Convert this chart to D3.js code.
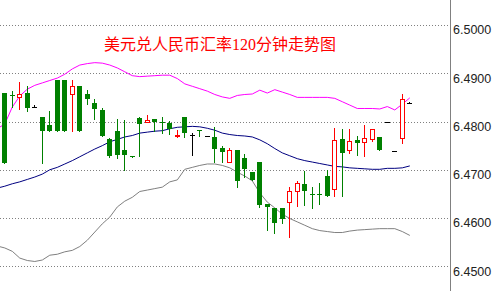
<!DOCTYPE html>
<html>
<head>
<meta charset="utf-8">
<script src="https://cdn.jsdelivr.net/npm/d3@7"></script>
<style>
    body { margin: 0; background: #fff; }
    svg { display: block; }
</style>
</head>
<body>
<svg id="canvas"></svg>
<script>
let title = "美元兑人民币汇率120分钟走势图"

// candles, oldest first
let opens = [6.4860, 6.4855, 6.4850, 6.4860, 6.4831, 6.4810, 6.4792, 6.4885, 6.4885, 6.4856,
    6.4874, 6.4858, 6.4838, 6.4824, 6.4763, 6.4780, 6.4740, 6.4729, 6.4808, 6.4798,
    6.4805, 6.4798, 6.4797, 6.4769, 6.4809, 6.4773, 6.4782, 6.4769, 6.4767, 6.4746,
    6.4717, 6.4740, 6.4724, 6.4695, 6.4716, 6.4630, 6.4620, 6.4620, 6.4634, 6.4657,
    6.4671, 6.4650, 6.4649, 6.4688, 6.4660, 6.4763, 6.4740, 6.4761, 6.4758, 6.4763,
    6.4767, 6.4798, 6.4739, 6.4765, 6.4838]
let highs = [6.4860, 6.4864, 6.4882, 6.4874, 6.4835, 6.4810, 6.4822, 6.4885, 6.4885, 6.4885,
    6.4874, 6.4865, 6.4847, 6.4829, 6.4765, 6.4805, 6.4804, 6.4729, 6.4809, 6.4813,
    6.4805, 6.4809, 6.4802, 6.4782, 6.4809, 6.4776, 6.4782, 6.4769, 6.4788, 6.4750,
    6.4745, 6.4740, 6.4733, 6.4695, 6.4716, 6.4630, 6.4620, 6.4620, 6.4664, 6.4676,
    6.4698, 6.4664, 6.4673, 6.4700, 6.4787, 6.4784, 6.4784, 6.4771, 6.4793, 6.4784,
    6.4767, 6.4798, 6.4739, 6.4858, 6.4841]
let lows = [6.4715, 6.4830, 6.4825, 6.4822, 6.4831, 6.4715, 6.4781, 6.4781, 6.4781, 6.4781,
    6.4781, 6.4837, 6.4805, 6.4770, 6.4726, 6.4725, 6.4700, 6.4727, 6.4729, 6.4798,
    6.4781, 6.4776, 6.4774, 6.4768, 6.4767, 6.4731, 6.4771, 6.4769, 6.4717, 6.4717,
    6.4717, 6.4665, 6.4685, 6.4679, 6.4622, 6.4575, 6.4570, 6.4589, 6.4560, 6.4624,
    6.4627, 6.4621, 6.4629, 6.4646, 6.4646, 6.4646, 6.4735, 6.4731, 6.4729, 6.4760,
    6.4740, 6.4798, 6.4739, 6.4756, 6.4838]
let closes = [6.4715, 6.4853, 6.4856, 6.4827, 6.4831, 6.4781, 6.4781, 6.4781, 6.4781, 6.4874,
    6.4781, 6.4846, 6.4826, 6.4770, 6.4728, 6.4731, 6.4731, 6.4727, 6.4794, 6.4803,
    6.4798, 6.4796, 6.4784, 6.4772, 6.4776, 6.4773, 6.4781, 6.4769, 6.4744, 6.4736,
    6.4741, 6.4677, 6.4701, 6.4679, 6.4627, 6.4622, 6.4590, 6.4598, 6.4657, 6.4672,
    6.4656, 6.4649, 6.4648, 6.4646, 6.4761, 6.4735, 6.4759, 6.4755, 6.4765, 6.4784,
    6.4740, 6.4798, 6.4739, 6.4846, 6.4838]

// bollinger bands, first value belongs to the bar just off the left edge
let bandStart = -1
let upperBand = [6.4785, 6.4795, 6.4830, 6.4853, 6.4867, 6.4875, 6.4880, 6.4885, 6.4890, 6.4898,
    6.4909, 6.4917, 6.4920, 6.4922, 6.4921, 6.4917, 6.4911, 6.4903, 6.4895, 6.4893,
    6.4894, 6.4895, 6.4896, 6.4896, 6.4889, 6.4878, 6.4873, 6.4868, 6.4863, 6.4856,
    6.4851, 6.4848, 6.4854, 6.4856, 6.4857, 6.4865, 6.4859, 6.4866, 6.4861, 6.4856,
    6.4850, 6.4850, 6.4850, 6.4850, 6.4850, 6.4848, 6.4841, 6.4834, 6.4827, 6.4827,
    6.4827, 6.4826, 6.4831, 6.4824, 6.4836, 6.4849]
let midBand = [6.4662, 6.4666, 6.4671, 6.4675, 6.4680, 6.4685, 6.4691, 6.4700, 6.4705, 6.4712,
    6.4719, 6.4727, 6.4735, 6.4743, 6.4750, 6.4758, 6.4763, 6.4768, 6.4771, 6.4776,
    6.4778, 6.4780, 6.4781, 6.4785, 6.4788, 6.4789, 6.4790, 6.4789, 6.4786, 6.4782,
    6.4776, 6.4773, 6.4771, 6.4770, 6.4768, 6.4762, 6.4754, 6.4744, 6.4735, 6.4729,
    6.4723, 6.4719, 6.4716, 6.4713, 6.4710, 6.4707, 6.4706, 6.4704, 6.4703, 6.4702,
    6.4701, 6.4701, 6.4703, 6.4703, 6.4704, 6.4708]
let lowerBand = [6.4542, 6.4538, 6.4531, 6.4517, 6.4512, 6.4510, 6.4513, 6.4523, 6.4525, 6.4530,
    6.4533, 6.4541, 6.4554, 6.4571, 6.4588, 6.4602, 6.4623, 6.4635, 6.4643, 6.4655,
    6.4658, 6.4661, 6.4664, 6.4675, 6.4679, 6.4701, 6.4705, 6.4709, 6.4712, 6.4712,
    6.4709, 6.4704, 6.4695, 6.4687, 6.4677, 6.4652, 6.4633, 6.4621, 6.4608, 6.4599,
    6.4592, 6.4585, 6.4578, 6.4574, 6.4572, 6.4570, 6.4570, 6.4573, 6.4575, 6.4576,
    6.4577, 6.4578, 6.4578, 6.4578, 6.4572, 6.4564]

let yTicks = [6.45, 6.46, 6.47, 6.48, 6.49, 6.50]

let width = 493
let height = 291
let axisX = 450

let canvas = d3.select("#canvas")
                .attr("width", width)
                .attr("height", height)

let xScale = d3.scaleLinear()
                .domain([0, closes.length - 1])
                .range([4.8, 409.8])

let yScale = d3.scaleLinear()
                .domain([6.45, 6.50])
                .range([266.3, 25])

canvas.append("rect")
        .attr("width", width)
        .attr("height", height)
        .attr("fill", "#fff")

canvas.append("defs")
        .append("clipPath")
        .attr("id", "plot")
        .append("rect")
        .attr("width", axisX)
        .attr("height", height)

// dotted grid
canvas.append("g")
        .selectAll("line")
        .data(yTicks)
        .enter()
        .append("line")
        .attr("x1", 0)
        .attr("x2", axisX)
        .attr("y1", (d) => Math.round(yScale(d)) + 0.5)
        .attr("y2", (d) => Math.round(yScale(d)) + 0.5)
        .attr("stroke", "#808080")
        .attr("stroke-dasharray", "1,2")

let plot = canvas.append("g")
                .attr("clip-path", "url(#plot)")

let bandLine = d3.line()
                .x((d, i) => xScale(i + bandStart))
                .y((d) => yScale(d))

let bands = [
    [upperBand, "#ff00ff"],
    [midBand, "#000080"],
    [lowerBand, "#808080"]
]

bands.forEach((b) => {
    plot.append("path")
        .datum(b[0])
        .attr("d", bandLine)
        .attr("fill", "none")
        .attr("stroke", b[1])
        .attr("stroke-width", 1)
})

let candles = closes.map((c, i) => {
    return { i: i, o: opens[i], h: highs[i], l: lows[i], c: c }
})

let colorOf = (d) => {
    if (d.c > d.o) return "#ff0000"
    if (d.c < d.o) return "#008000"
    return "#000000"
}

let bars = plot.selectAll(".candle")
                .data(candles)
                .enter()
                .append("g")
                .attr("class", "candle")

// wicks
bars.append("line")
    .attr("x1", (d) => Math.floor(xScale(d.i)) + 0.5)
    .attr("x2", (d) => Math.floor(xScale(d.i)) + 0.5)
    .attr("y1", (d) => Math.round(yScale(d.h)))
    .attr("y2", (d) => Math.round(yScale(d.l)) + 1)
    .attr("stroke", colorOf)

// bodies
bars.append("rect")
    .attr("x", (d) => {
        let left = Math.round(xScale(d.i) - 2.5)
        return d.c > d.o ? left + 0.5 : left
    })
    .attr("y", (d) => {
        let top = Math.round(yScale(Math.max(d.o, d.c)))
        return d.c > d.o ? top + 0.5 : top
    })
    .attr("width", (d) => d.c > d.o ? 4 : 5)
    .attr("height", (d) => {
        let h = Math.round(yScale(Math.min(d.o, d.c))) - Math.round(yScale(Math.max(d.o, d.c)))
        if (d.c > d.o) return Math.max(h, 1)
        return Math.max(h, 1)
    })
    .attr("fill", (d) => d.c > d.o ? "#fff" : colorOf(d))
    .attr("stroke", (d) => d.c > d.o ? "#ff0000" : "none")
    .attr("stroke-width", 1)

// title
canvas.append("text")
        .attr("x", 104)
        .attr("y", 50)
        .attr("fill", "#ff0000")
        .style("font-family", "'Liberation Serif', 'Noto Sans CJK SC', serif")
        .style("font-size", "16px")
        .text(title)

// right axis
canvas.append("line")
        .attr("x1", axisX + 0.5)
        .attr("x2", axisX + 0.5)
        .attr("y1", 0)
        .attr("y2", height)
        .attr("stroke", "#808080")

let yAxis = d3.axisRight(yScale)
                .tickValues(yTicks)
                .tickSize(0)
                .tickPadding(3)
                .tickFormat(d3.format(".4f"))

let axisG = canvas.append("g")
                .attr("transform", "translate(" + axisX + ", 0)")
                .call(yAxis)

axisG.select(".domain").remove()
axisG.selectAll(".tick text")
        .attr("dy", "0.7em")
        .attr("fill", "#222")
        .style("font-family", "'Liberation Sans', Arial, sans-serif")
        .style("font-size", "12.5px")
</script>
</body>
</html>
